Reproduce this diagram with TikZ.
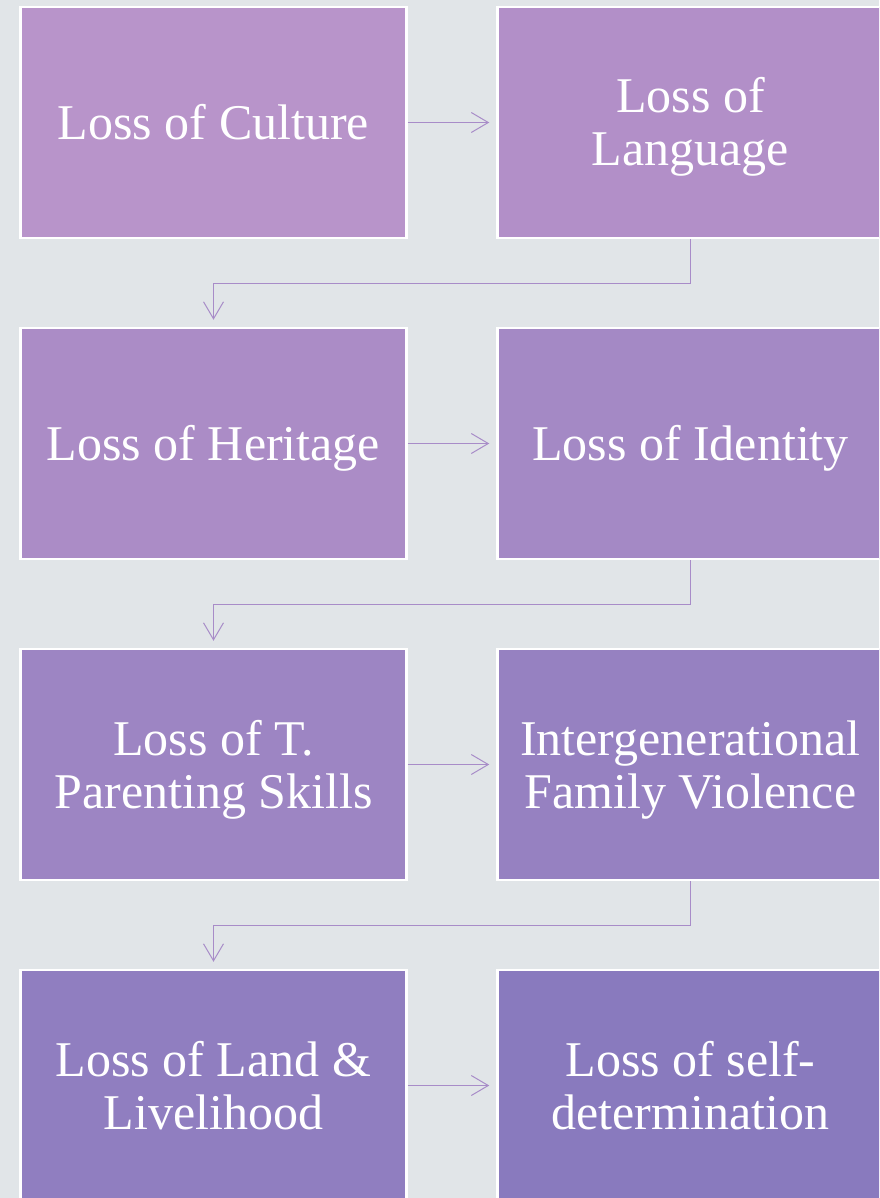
\documentclass[tikz,border=0pt]{standalone}
\usepackage{fontspec}
\setmainfont{Liberation Serif}
\usetikzlibrary{arrows.meta}
\definecolor{bg}{RGB}{225,229,232}
\definecolor{c1}{RGB}{184,148,202}
\definecolor{c2}{RGB}{178,143,200}
\definecolor{c3}{RGB}{171,140,198}
\definecolor{c4}{RGB}{164,137,197}
\definecolor{c5}{RGB}{157,133,195}
\definecolor{c6}{RGB}{150,129,193}
\definecolor{c7}{RGB}{144,126,192}
\definecolor{c8}{RGB}{137,122,190}
\definecolor{linkc}{RGB}{168,140,200}
% invisible struts: fixed ascent on the first line and fixed descent on
% the last, so each text block is centred by line metrics, not by glyphs
\newcommand\topstrut{\rule{0pt}{45pt}}
\newcommand\botstrut{\rule[-11pt]{0pt}{11pt}}
\tikzset{
  stepbox/.style={draw=white, line width=2.5pt, minimum width=386pt,
    minimum height=231pt, inner sep=0pt, text=white, align=center,
    font=\fontsize{50}{53}\selectfont},
  link/.style={draw=linkc, line width=1pt, shorten >=7pt,
    -{Straight Barb[length=17pt,width=20pt,line width=1pt]}}
}
\begin{document}
\begin{tikzpicture}[x=1pt,y=-1pt]
\useasboundingbox (0,0) rectangle (879,1198);
\clip (0,0) rectangle (879,1198);
\fill[bg] (0,0) rectangle (879,1198);

% chain of losses, two per row
\node[stepbox, fill=c1] (n1) at (213.5,122.5) {\topstrut Loss of Culture\botstrut};
\node[stepbox, fill=c2] (n2) at (690.5,122.5) {\topstrut Loss of\\Language\botstrut};
\node[stepbox, fill=c3] (n3) at (213.5,443.5) {\topstrut Loss of Heritage\botstrut};
\node[stepbox, fill=c4] (n4) at (690.5,443.5) {\topstrut Loss of Identity\botstrut};
\node[stepbox, fill=c5] (n5) at (213.5,764.5) {\topstrut Loss of T.\\Parenting Skills\botstrut};
\node[stepbox, fill=c6] (n6) at (690.5,764.5) {\topstrut Intergenerational\\Family Violence\botstrut};
\node[stepbox, fill=c7] (n7) at (213.5,1085.5) {\topstrut Loss of Land \&\\Livelihood\botstrut};
\node[stepbox, fill=c8] (n8) at (690.5,1085.5) {\topstrut Loss of self-\\determination\botstrut};

% connectors within each row
\draw[link] (n1) -- (n2);
\draw[link] (n3) -- (n4);
\draw[link] (n5) -- (n6);
\draw[link] (n7) -- (n8);

% elbow connectors from one row to the next
\draw[link] (n2.south) -- ++(0,44) -| (n3.north);
\draw[link] (n4.south) -- ++(0,44) -| (n5.north);
\draw[link] (n6.south) -- ++(0,44) -| (n7.north);
\end{tikzpicture}
\end{document}
